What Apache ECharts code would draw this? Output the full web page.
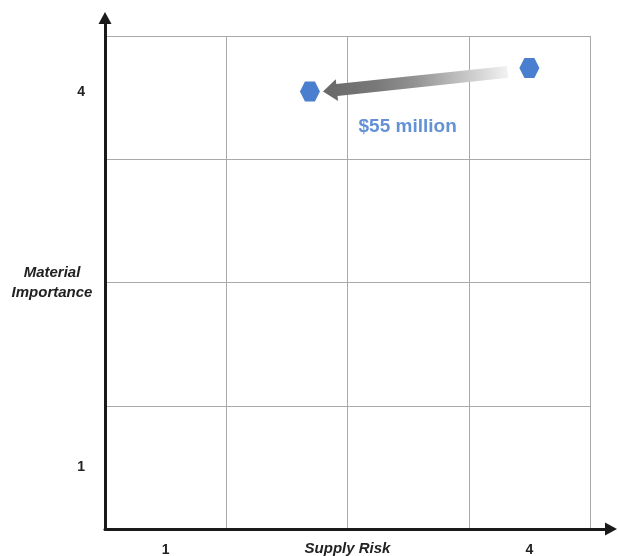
<!DOCTYPE html>
<html><head><meta charset="utf-8">
<script src="https://cdn.jsdelivr.net/npm/echarts@6/dist/echarts.min.js"></script>
<style>html,body{margin:0;padding:0;background:#fff}#c{width:618px;height:556px}</style>
</head><body><div id="c"></div>
<script>
// ---- data ----
const xTickValues = [0.5, 3.5];
const xTickLabels = ['1', '4'];
const yTickValues = [0.5, 3.5];
const yTickLabels = ['1', '4'];
const xAxisTitle = 'Supply Risk';
const yAxisTitle = 'Material\nImportance';
const pointNames = ['Before', 'After'];
const supplyRisk = [3.50, 1.69];
const materialImportance = [3.74, 3.55];
const moveLabel = '$55 million';

// ---- layout ----
const W = 618, H = 556;
const plotL = 105, plotR = 28, plotT = 36, plotB = 27;
const axisR = 7, axisT = 18;
const unitX = (W - plotL - plotR) / 4;
const unitY = (H - plotT - plotB) / 4;
const axisMaxX = (W - plotL - axisR) / unitX;
const axisMaxY = (H - axisT - plotB) / unitY;
const FONT = '"Liberation Sans", Arial, sans-serif';

function pick(vals, labels, v) {
  for (let i = 0; i < vals.length; i++) if (Math.abs(vals[i] - v) < 1e-6) return labels[i];
  return '';
}

const chart = echarts.init(document.getElementById('c'), null, {renderer: 'canvas'});
const hexPath = 'path://M0,50 L25,6.7 L75,6.7 L100,50 L75,93.3 L25,93.3 Z';

chart.setOption({
  animation: false,
  backgroundColor: '#ffffff',
  textStyle: {fontFamily: FONT},
  grid: [
    {left: plotL, right: plotR, top: plotT, bottom: plotB, containLabel: false, outerBoundsMode: 'none'},
    {left: plotL, right: axisR, top: axisT, bottom: plotB, containLabel: false, outerBoundsMode: 'none'}
  ],
  xAxis: [
    {
      gridIndex: 0, type: 'value', min: 0, max: 4, interval: 1,
      axisLine: {show: false}, axisTick: {show: false}, axisLabel: {show: false},
      splitLine: {show: true, lineStyle: {color: '#a9a9a9', width: 1}},
      name: xAxisTitle, nameLocation: 'middle', nameGap: 12,
      nameTextStyle: {fontSize: 15, fontWeight: 'bold', fontStyle: 'italic', color: '#222', fontFamily: FONT}
    },
    {
      gridIndex: 1, type: 'value', min: 0, max: axisMaxX, interval: 0.5,
      axisLine: {show: true, symbol: ['none', 'triangle'], symbolSize: [13, 12],
        lineStyle: {color: '#1a1a1a', width: 3}},
      axisTick: {show: false}, splitLine: {show: false},
      axisLabel: {show: true, margin: 14, fontSize: 14, fontWeight: 'bold', color: '#222',
        formatter: v => pick(xTickValues, xTickLabels, v)}
    }
  ],
  yAxis: [
    {
      gridIndex: 0, type: 'value', min: 0, max: 4, interval: 1,
      axisLine: {show: false}, axisTick: {show: false}, axisLabel: {show: false},
      splitLine: {show: true, lineStyle: {color: '#a9a9a9', width: 1}},
      name: yAxisTitle, nameLocation: 'middle', nameRotate: 0, nameGap: 53,
      nameTextStyle: {fontSize: 15, fontWeight: 'bold', fontStyle: 'italic', color: '#222',
        align: 'center', lineHeight: 20, fontFamily: FONT}
    },
    {
      gridIndex: 1, type: 'value', min: 0, max: axisMaxY, interval: 0.5,
      axisLine: {show: true, symbol: ['none', 'triangle'], symbolSize: [13, 12],
        lineStyle: {color: '#1a1a1a', width: 3}},
      axisTick: {show: false}, splitLine: {show: false},
      axisLabel: {show: true, margin: 20, fontSize: 14, fontWeight: 'bold', color: '#222',
        formatter: v => {
          const t = pick(yTickValues, yTickLabels, v);
          if (!t) return '';
          return v > 2 ? '{up|' + t + '}' : t;
        },
        rich: {up: {fontSize: 14, fontWeight: 'bold', color: '#222', padding: [0, 0, 11, 0]}}
      }
    }
  ],
  series: [
    {
      type: 'custom', xAxisIndex: 0, yAxisIndex: 0, clip: false, z: 3,
      data: [[supplyRisk[0], materialImportance[0], supplyRisk[1], materialImportance[1]]],
      renderItem: function (params, api) {
        const p0 = api.coord([api.value(0), api.value(1)]);
        const p1 = api.coord([api.value(2), api.value(3)]);
        const dx = p1[0] - p0[0], dy = p1[1] - p0[1];
        const len = Math.hypot(dx, dy);
        const ux = dx / len, uy = dy / len;
        const nx = uy, ny = -ux; // perpendicular (upward)
        const s = 1.5;
        const tail = [p0[0] + ux * 22 + nx * s, p0[1] + uy * 22 + ny * s];
        const tip = [p1[0] - ux * 13 + nx * s, p1[1] - uy * 13 + ny * s];
        const base = [tip[0] - ux * 14, tip[1] - uy * 14];
        const sw = 6, hw = 11;
        const pts = [
          [tail[0] + nx * sw, tail[1] + ny * sw],
          [base[0] + nx * sw, base[1] + ny * sw],
          [base[0] + nx * hw, base[1] + ny * hw],
          tip,
          [base[0] - nx * hw, base[1] - ny * hw],
          [base[0] - nx * sw, base[1] - ny * sw],
          [tail[0] - nx * sw, tail[1] - ny * sw]
        ];
        const grad = new echarts.graphic.LinearGradient(tip[0], tip[1], tail[0], tail[1], [
          {offset: 0, color: '#686868'},
          {offset: 0.3, color: '#7a7a7a'},
          {offset: 0.5, color: '#939393'},
          {offset: 0.75, color: '#c2c2c2'},
          {offset: 1, color: '#f2f2f2'}
        ], true);
        const mid = [(p0[0] + p1[0]) / 2, (p0[1] + p1[1]) / 2];
        return {
          type: 'group',
          children: [
            {type: 'polygon', shape: {points: pts}, style: {fill: grad}},
            {type: 'text', style: {text: moveLabel, x: mid[0] - 12, y: mid[1] + 47,
              align: 'center', verticalAlign: 'middle', fill: '#6592d6',
              font: 'bold 19px ' + FONT}}
          ]
        };
      }
    },
    {
      type: 'scatter', xAxisIndex: 0, yAxisIndex: 0, z: 5,
      symbol: hexPath, symbolSize: [20, 20],
      itemStyle: {color: '#4a7fd0', opacity: 1},
      data: supplyRisk.map((x, i) => ({name: pointNames[i], value: [x, materialImportance[i]]}))
    }
  ]
});
</script>
</body></html>
